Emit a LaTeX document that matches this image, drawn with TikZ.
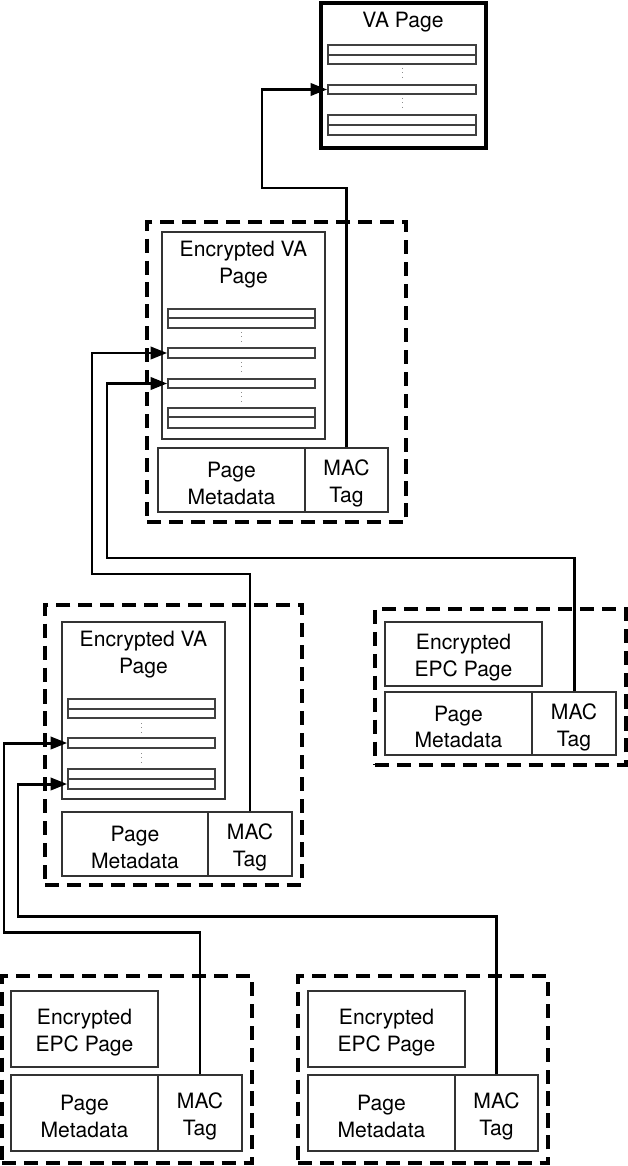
\documentclass[tikz,border=0pt]{standalone}
\usepackage{fontspec}
\setmainfont{TeX Gyre Heros}
\usetikzlibrary{arrows.meta,fit}

\begin{document}
\begin{tikzpicture}[
    x=0.02cm, y=-0.02cm,
    font=\fontsize{12}{15.3}\selectfont,
    box/.style={
        rectangle, draw=black!80, line width=0.7pt,
        inner sep=0pt,
    },
    vapage/.style={box, draw=black, line width=1.9pt},
    slot/.style={rectangle, draw=black!75, line width=0.9pt, inner sep=0pt},
    group/.style={
        rectangle, draw=black, line width=1.8pt,
        dash pattern=on 8pt off 4.5pt, inner sep=0pt,
    },
    title/.style={align=center, inner sep=0pt},
    boxtext/.style={title, yshift=-2pt},
    vdots/.style={draw=black!45, line width=0.5pt, dotted},
    link/.style={-{Triangle[length=9.5pt,width=7pt]}, line width=1.7pt, draw=black},
]

% Canvas
\useasboundingbox (0,0) rectangle (628,1166);

% =============================================================
% TOP: VA page
% =============================================================
\node[vapage, fit={(321,3) (486,148)}] (va) {};
\node[title] (vatitle) at (403,22) {VA Page};

\node[slot, fit={(328,45) (476,55)}] (va1a) {};
\node[slot, fit={(328,55) (476,64)}] (va1b) {};
\node[slot, fit={(328,85) (476,94)}] (va2) {};
\node[slot, fit={(328,115) (476,125)}] (va3a) {};
\node[slot, fit={(328,125) (476,135)}] (va3b) {};
\draw[vdots] (402,68) -- (402,78);
\draw[vdots] (402,98) -- (402,108);

% =============================================================
% Encrypted VA page (upper)
% =============================================================
\node[group, fit={(147,222) (406,522)}] (grp1) {};
\node[box, fit={(162,232) (325,439)}] (enc1) {};
\node[title] (enc1title) at (243.5,265) {Encrypted VA\\Page};

\node[slot, fit={(168,309) (315,318)}] (e1r1a) {};
\node[slot, fit={(168,318) (315,328)}] (e1r1b) {};
\node[slot, fit={(168,348) (315,358)}] (e1r2) {};
\node[slot, fit={(168,379) (315,388)}] (e1r3) {};
\node[slot, fit={(168,408) (315,417)}] (e1r4a) {};
\node[slot, fit={(168,417) (315,428)}] (e1r4b) {};
\draw[vdots] (241.5,332) -- (241.5,341);
\draw[vdots] (241.5,362) -- (241.5,371);
\draw[vdots] (241.5,392) -- (241.5,401);

\node[box, fit={(158,448) (305,512)}, label={[boxtext]center:Page\\Metadata}] (meta1) {};
\node[box, fit={(305,448) (388,512)}, label={[boxtext]center:MAC\\Tag}] (mac1) {};

% =============================================================
% Encrypted VA page (lower)
% =============================================================
\node[group, fit={(45,605) (302,885)}] (grp2) {};
\node[box, fit={(62,622) (225,799)}] (enc2) {};
\node[title] (enc2title) at (143.5,655) {Encrypted VA\\Page};

\node[slot, fit={(68,699) (215,709)}] (e2r1a) {};
\node[slot, fit={(68,709) (215,718)}] (e2r1b) {};
\node[slot, fit={(68,738) (215,748)}] (e2r2) {};
\node[slot, fit={(68,769) (215,779)}] (e2r3a) {};
\node[slot, fit={(68,779) (215,789)}] (e2r3b) {};
\draw[vdots] (141.5,723) -- (141.5,732);
\draw[vdots] (141.5,753) -- (141.5,762);

\node[box, fit={(62,812) (208,876)}, label={[boxtext]center:Page\\Metadata}] (meta2) {};
\node[box, fit={(208,812) (292,876)}, label={[boxtext]center:MAC\\Tag}] (mac2) {};

% =============================================================
% Encrypted EPC pages
% =============================================================
\node[group, fit={(375,609) (626,765)}] (grp3) {};
\node[box, fit={(385,622) (542,686)}, label={[boxtext]center:Encrypted\\EPC Page}] (epc3) {};
\node[box, fit={(385,692) (532,755)}, label={[boxtext]center:Page\\Metadata}] (meta3) {};
\node[box, fit={(532,692) (616,755)}, label={[boxtext]center:MAC\\Tag}] (mac3) {};

\node[group, fit={(2,976) (252,1163)}] (grp4) {};
\node[box, fit={(11,991) (158,1067)}, label={[boxtext]center:Encrypted\\EPC Page}] (epc4) {};
\node[box, fit={(11,1075) (158,1151)}, label={[boxtext]center:Page\\Metadata}] (meta4) {};
\node[box, fit={(158,1075) (242,1151)}, label={[boxtext]center:MAC\\Tag}] (mac4) {};

\node[group, fit={(298,976) (548,1163)}] (grp5) {};
\node[box, fit={(308,991) (465,1067)}, label={[boxtext]center:Encrypted\\EPC Page}] (epc5) {};
\node[box, fit={(308,1075) (455,1151)}, label={[boxtext]center:Page\\Metadata}] (meta5) {};
\node[box, fit={(455,1075) (538,1151)}, label={[boxtext]center:MAC\\Tag}] (mac5) {};

% MAC tags point up to their slots
\draw[link] (mac1.north) |- (262,188) |- (va2.west);
\draw[link] (mac2.north) |- (92,574) |- (e1r2.west);
\draw[link] (mac3.north) |- (107,558) |- (e1r3.west);
\draw[link] (mac4.north) |- (4,932) |- (e2r2.west);
\draw[link] (mac5.north) |- (18,916) |- (e2r3b.west);

\end{tikzpicture}
\end{document}
